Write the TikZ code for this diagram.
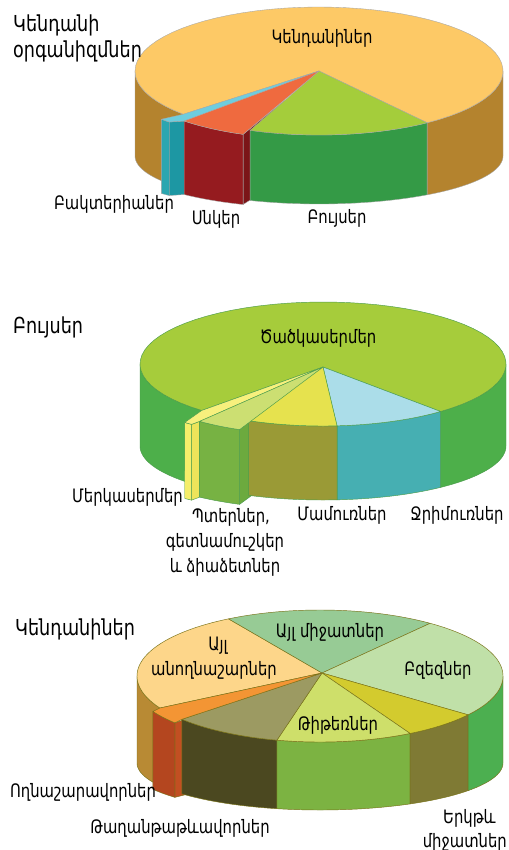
\documentclass[tikz,border=0pt]{standalone}
\usepackage{fontspec}
\newfontfamily\armf[FakeStretch=0.8]{DejaVu Sans}
% chart 1
\definecolor{aYT}{HTML}{FDC966}\definecolor{aYS}{HTML}{B4832E}
\definecolor{aGT}{HTML}{A4CD3B}\definecolor{aGS}{HTML}{349A46}
\definecolor{aRT}{HTML}{EF6A3F}\definecolor{aRF}{HTML}{951B1F}\definecolor{aRR}{HTML}{7B1518}
\definecolor{aCT}{HTML}{6ECDDE}\definecolor{aCF}{HTML}{2BA6B0}\definecolor{aCR}{HTML}{1D97A3}
% chart 2
\definecolor{bGT}{HTML}{A6CC3B}\definecolor{bGS}{HTML}{4DAF4A}
\definecolor{bBT}{HTML}{ABDDE9}\definecolor{bBS}{HTML}{46AFB2}
\definecolor{bYT}{HTML}{E6E24E}\definecolor{bYS}{HTML}{9A9A36}
\definecolor{bFT}{HTML}{CCDF72}\definecolor{bFF}{HTML}{77B243}\definecolor{bFR}{HTML}{6CAA3E}
\definecolor{bPT}{HTML}{F7F07D}\definecolor{bPF}{HTML}{F5EE6A}\definecolor{bPR}{HTML}{EDE45A}
% chart 3
\definecolor{cPT}{HTML}{FDD68A}\definecolor{cPS}{HTML}{B88A34}
\definecolor{cMT}{HTML}{97CB95}
\definecolor{cBT}{HTML}{C0E0A8}\definecolor{cBS}{HTML}{4CAF50}
\definecolor{cOT}{HTML}{D3CB2E}\definecolor{cOS}{HTML}{7F7A34}
\definecolor{cTT}{HTML}{CEDF6A}\definecolor{cTS}{HTML}{7CB342}
\definecolor{cGT}{HTML}{9C9A62}\definecolor{cGS}{HTML}{4B4820}
\definecolor{cRT}{HTML}{F39534}\definecolor{cRF}{HTML}{B4461F}\definecolor{cRR}{HTML}{C24F22}
\newcommand\setpie[8]{\def\pcx{#1}\def\pcy{#2}\def\prx{#3}\def\pry{#4}\def\pte{#5}\def\pryb{#6}\def\pax{#7}\def\pay{#8}}
\newcommand\pietop[3]{\filldraw[#3] (\pax,\pay) -- plot[domain=#1:#2,samples=60] ({\pcx+\prx*cos(\x)},{\pcy+\pry*sin(\x)}) -- cycle;}
\newcommand\pietopx[5]{\filldraw[#5] (\pax,\pay) -- plot[domain=#1:#2,samples=20] ({\pcx+(#3)+\prx*cos(\x)},{\pcy+(#4)+\pry*sin(\x)}) -- cycle;}
\newcommand\pietopfill[7]{\filldraw[#7] (\pax,\pay) -- ({\pcx+\prx*cos(#2)},{\pcy+\pry*sin(#2)}) -- plot[domain=#2:#1,samples=10] ({\pcx+(#3)+\prx*cos(\x)},{\pcy+(#4)+\pry*sin(\x)}) -- ({\pcx+(#5)+\prx*cos(#1)},{\pcy+(#6)+\pry*sin(#1)}) -- cycle;}
\newcommand\pieside[5]{\filldraw[#5] plot[domain=#1:#2,samples=40] ({\pcx+(#3)+\prx*cos(\x)},{\pcy+(#4)+\pry*sin(\x)}) -- plot[domain=#2:#1,samples=40] ({\pcx+(#3)+\prx*cos(\x)},{\pcy+(#4)+\pte+\pryb*sin(\x)}) -- cycle;}
\newcommand\piewall[8]{\filldraw[#8] ({\pcx+(#2)+(#4)*\prx*cos(#1)},{\pcy+(#3)+(#4)*\pry*sin(#1)}) -- ({\pcx+(#2)+(#4)*\prx*cos(#1)},{\pcy+(#3)+\pte+(#4)*\pryb*sin(#1)}) -- ({\pcx+(#5)+(#7)*\prx*cos(#1)},{\pcy+(#6)+\pte+(#7)*\pryb*sin(#1)}) -- ({\pcx+(#5)+(#7)*\prx*cos(#1)},{\pcy+(#6)+(#7)*\pry*sin(#1)}) -- cycle;}
\begin{document}
\begin{tikzpicture}[x=1pt,y=-1pt,
  lbl/.style={font=\armf\fontsize{18.5}{21}\selectfont, inner sep=0pt, text=black},
  ttl/.style={font=\armf\fontsize{22}{25}\selectfont, inner sep=0pt, text=black},
  ea/.style={draw=black!35, line width=0.35pt, line join=round},
  eb/.style={draw=green!45!black!70, line width=0.45pt, line join=round},
  ec/.style={draw=olive!80!black, line width=0.45pt, line join=round}]
\useasboundingbox (0,0) rectangle (508,850);
\fill[white] (0,0) rectangle (508,850);

% ===== chart 1 =====
\setpie{319}{71}{184}{64}{85}{48}{319}{71}
\piewall{112}{-7}{4}{1}{0}{0}{0.5}{ea,fill=aRR}
\pieside{137.5}{180}{0}{0}{ea,fill=aYS}
\pieside{0}{54}{0}{0}{ea,fill=aYS}
\pieside{54}{112}{0}{0}{ea,fill=aGS}
\pietop{137.5}{414}{ea,fill=aYT}
\pietop{54}{112}{ea,fill=aGT}
\piewall{134}{-22}{5}{1}{-7}{4}{1}{ea,fill=aCR}
\pieside{112}{134}{-7}{4}{ea,fill=aRF}
\pieside{134}{137.5}{-22}{5}{ea,fill=aCF}
\pietopfill{134}{137.5}{-22}{5}{-7}{4}{ea,fill=aCT}
\pietopx{112}{134}{-7}{4}{ea,fill=aRT}

\node[ttl,anchor=base west] (h1a) at (13,32) {Կենդանի};
\node[ttl,anchor=base west] (h1b) at (13,58) {օրգանիզմներ};
\node[lbl,anchor=base] (l1a) at (322,44) {Կենդանիներ};
\node[lbl,anchor=base] (l1b) at (114,210) {Բակտերիաներ};
\node[lbl,anchor=base] (l1c) at (216,225) {Սնկեր};
\node[lbl,anchor=base] (l1d) at (337,223) {Բույսեր};

% ===== chart 2 =====
\setpie{323}{364}{183}{62}{82}{54}{323}{367}
\piewall{114}{-9}{9}{1}{0}{0}{0.5}{eb,fill=bFR}
\pieside{131.5}{180}{0}{0}{eb,fill=bGS}
\pieside{0}{50}{0}{0}{eb,fill=bGS}
\pieside{50}{85.6}{0}{0}{eb,fill=bBS}
\pieside{85.6}{114}{0}{0}{eb,fill=bYS}
\pietop{131.5}{410}{eb,fill=bGT}
\pietop{50}{85.6}{eb,fill=bBT}
\pietop{85.6}{114}{eb,fill=bYT}
\piewall{128.7}{-17}{12}{1}{-9}{9}{1}{eb,fill=bPR}
\pieside{114}{128.7}{-9}{9}{eb,fill=bFF}
\pieside{128.7}{131.5}{-17}{12}{eb,fill=bPF}
\pietopfill{128.7}{131.5}{-17}{12}{-9}{9}{eb,fill=bPT}
\pietopx{114}{128.7}{-9}{9}{eb,fill=bFT}

\node[ttl,anchor=base west] (h2) at (13,333) {Բույսեր};
\node[lbl,anchor=base] (l2a) at (318,343) {Ծածկասերմեր};
\node[lbl,anchor=base east] (l2b) at (183,502) {Մերկասերմեր};
\node[lbl,anchor=base] (l2c) at (231,522) {Պտերներ,};
\node[lbl,anchor=base] (l2d) at (225,547) {գետնամուշկեր};
\node[lbl,anchor=base] (l2e) at (225,572) {և ձիաձետներ};
\node[lbl,anchor=base] (l2f) at (342,520) {Մամուռներ};
\node[lbl,anchor=base] (l2g) at (457,520) {Ջրիմուռներ};

% ===== chart 3 =====
\setpie{320}{676}{183}{66}{87}{47}{322}{673}
\piewall{139}{-7}{3.5}{1}{0}{0}{0.5}{ec,fill=cRR}
\pieside{151}{180}{0}{0}{ec,fill=cPS}
\pieside{103.6}{139}{0}{0}{ec,fill=cGS}
\pieside{60.5}{103.6}{0}{0}{ec,fill=cTS}
\pieside{36}{60.5}{0}{0}{ec,fill=cOS}
\pieside{0}{36}{0}{0}{ec,fill=cBS}
\pietop{151}{240}{ec,fill=cPT}
\pietop{240}{307}{ec,fill=cMT}
\pietop{307}{396}{ec,fill=cBT}
\pietop{36}{60.5}{ec,fill=cOT}
\pietop{60.5}{103.6}{ec,fill=cTT}
\pietop{103.6}{139}{ec,fill=cGT}
\pieside{139}{151}{-7}{3.5}{ec,fill=cRF}
\pietopfill{139}{151}{-7}{3.5}{0}{0}{ec,fill=cRT}

\node[ttl,anchor=base west] (h3) at (15,635) {Կենդանիներ};
\node[lbl,anchor=base] (l3a) at (218,650) {Այլ};
\node[lbl,anchor=base] (l3b) at (214,675) {անողնաշարներ};
\node[lbl,anchor=base] (l3c) at (330,637) {Այլ միջատներ};
\node[lbl,anchor=base] (l3d) at (438,675) {Բզեզներ};
\node[lbl,anchor=base] (l3e) at (338,730) {Թիթեռներ};
\node[lbl,anchor=base] (l3f) at (83,797) {Ողնաշարավորներ};
\node[lbl,anchor=base] (l3g) at (180,833) {Թաղանթաթևավորներ};
\node[lbl,anchor=base west] (l3h) at (443,823) {Երկթև};
\node[lbl,anchor=base east] (l3i) at (507,847) {միջատներ};
\end{tikzpicture}
\end{document}
